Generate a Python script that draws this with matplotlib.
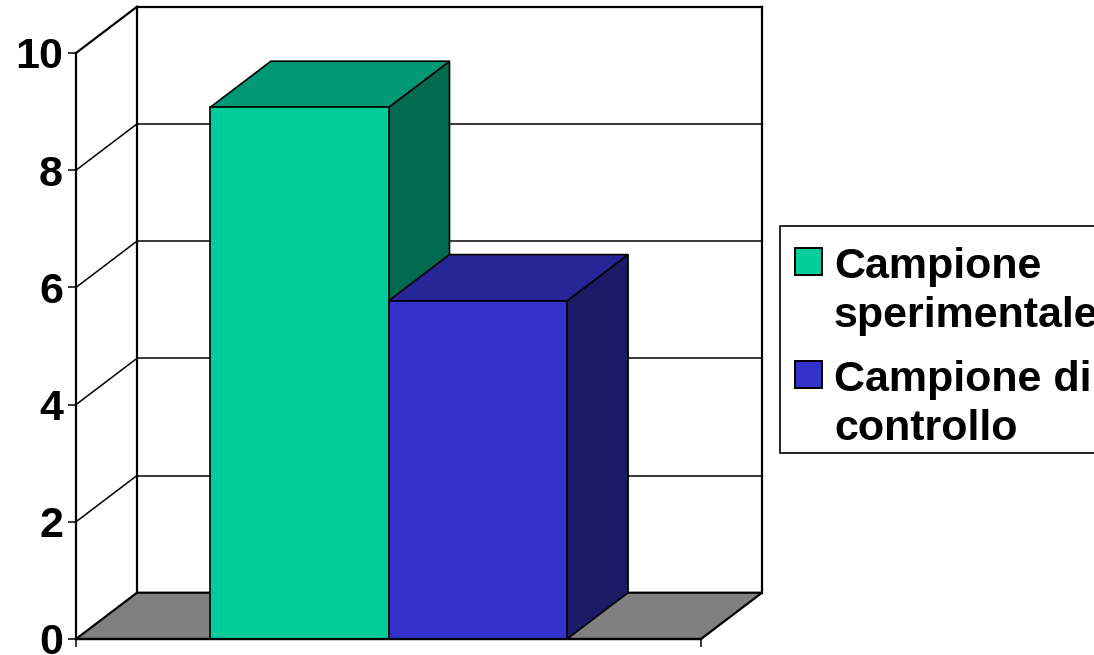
import matplotlib.pyplot as plt
from matplotlib.patches import Polygon, Rectangle

plt.rcParams["font.family"] = ["Liberation Sans", "DejaVu Sans"]
plt.rcParams["font.weight"] = "bold"

SERIES = ["Campione\nsperimentale", "Campione di\ncontrollo"]
VALUES = [9.07, 5.77]
FRONT_COLORS = ["#00CC99", "#3333CC"]
TOP_COLORS = ["#009973", "#262699"]
SIDE_COLORS = ["#006B50", "#1B1B66"]
Y_TICKS = [0, 2, 4, 6, 8, 10]

W, H = 1094, 655
DEPTH_X = 61 / 625
DEPTH_Y = 0.79
GAP = 1.5
BLACK_LW = 1.6


def fx(px):
    return px / W


def fy(py):
    return 1 - py / H


fig = plt.figure(figsize=(W / 100, H / 100), dpi=100, facecolor="white")
ax = fig.add_axes([fx(76), fy(639), 625 / W, 586 / H])
ax.set_xlim(0, 1)
ax.set_ylim(0, 10)
ax.patch.set_alpha(0)


def poly(points, color, z, edge="black", lw=1.2):
    ax.add_patch(Polygon(points, closed=True, facecolor=color, edgecolor=edge,
                         linewidth=lw, clip_on=False, zorder=z, joinstyle="miter"))


def wall_line(xs, ys, lw=BLACK_LW):
    ax.plot(xs, ys, color="black", lw=lw, clip_on=False, zorder=1.5,
            solid_capstyle="projecting")


# floor
poly([(0, 0), (1, 0), (1 + DEPTH_X, DEPTH_Y), (DEPTH_X, DEPTH_Y)], "#808080", 1, lw=BLACK_LW)

# back wall and side wall
for t in Y_TICKS[1:-1]:
    wall_line([0, DEPTH_X], [t, t + DEPTH_Y], lw=1.1)
    wall_line([DEPTH_X, 1 + DEPTH_X], [t + DEPTH_Y, t + DEPTH_Y], lw=1.1)
wall_line([0, DEPTH_X], [10, 10 + DEPTH_Y])
wall_line([DEPTH_X, DEPTH_X], [DEPTH_Y, 10 + DEPTH_Y])
wall_line([DEPTH_X, 1 + DEPTH_X], [10 + DEPTH_Y, 10 + DEPTH_Y])
wall_line([1 + DEPTH_X, 1 + DEPTH_X], [DEPTH_Y, 10 + DEPTH_Y])

# bars, left to right so the blue box covers the green side
bar_w = 1 / (len(VALUES) + GAP)
start = GAP / 2 * bar_w
for i, v in enumerate(VALUES):
    x0 = start + i * bar_w
    x1 = x0 + bar_w
    z = 2 + i
    poly([(x1, 0), (x1 + DEPTH_X, DEPTH_Y), (x1 + DEPTH_X, v + DEPTH_Y), (x1, v)], SIDE_COLORS[i], z)
    poly([(x0, v), (x1, v), (x1 + DEPTH_X, v + DEPTH_Y), (x0 + DEPTH_X, v + DEPTH_Y)], TOP_COLORS[i], z)
    poly([(x0, 0), (x1, 0), (x1, v), (x0, v)], FRONT_COLORS[i], z)

ax.spines[["top", "right"]].set_visible(False)
for side in ["left", "bottom"]:
    ax.spines[side].set_linewidth(BLACK_LW)
    ax.spines[side].set_zorder(6)
ax.set_yticks(Y_TICKS)
ax.set_yticklabels([str(t) for t in Y_TICKS], fontsize=31, fontweight="bold")
ax.set_xticks([0, 1])
ax.set_xticklabels([])
ax.tick_params(axis="both", length=5.8, width=1.1, pad=3.5)

# legend, by hand: swatch sits on the first text line and the box runs off the figure
fig.add_artist(Rectangle((fx(780), fy(453)), fx(340), 227 / H, transform=fig.transFigure,
                         facecolor="white", edgecolor="black", linewidth=1.2))
swatch_tops = [248, 361]
last_baselines = [327, 440]
for label, color, top, base in zip(SERIES, FRONT_COLORS, swatch_tops, last_baselines):
    fig.add_artist(Rectangle((fx(795), fy(top + 27)), 27 / W, 27 / H, transform=fig.transFigure,
                             facecolor=color, edgecolor="black", linewidth=1.4))
    fig.text(fx(834), fy(base), label, fontsize=31, fontweight="bold", va="baseline",
             ha="left", linespacing=1.3)

fig.savefig("out.png", dpi=100)
